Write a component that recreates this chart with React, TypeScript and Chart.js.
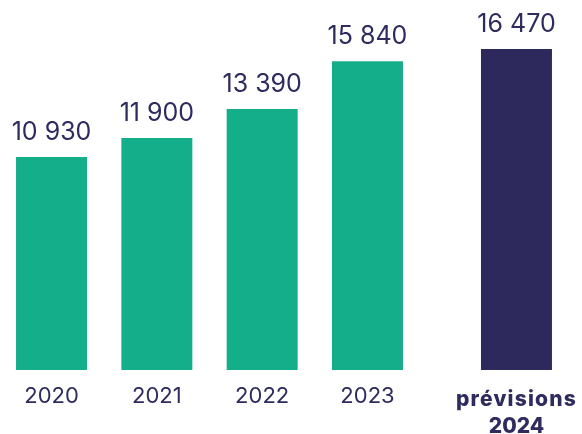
import React, { useEffect, useRef } from "react";
import { Chart, registerables } from "chart.js";

Chart.register(...registerables);

const categories: string[][] = [["2020"], ["2021"], ["2022"], ["2023"], ["prévisions", "2024"]];
const actualValues: (number | null)[] = [10930, 11900, 13390, 15840, null];
const forecastValues: (number | null)[] = [null, null, null, null, 16470];

const TEAL = "#15AE8A";
const NAVY = "#2D295C";
const TEXT = "#2E2B5E";
const FONT = "Inter, 'Noto Sans', sans-serif";

const fmt = (v: number) => String(v).replace(/\B(?=(\d{3})+(?!\d))/g, " ");

const labelPlugin = {
  id: "barLabels",
  afterDatasetsDraw(chart: any) {
    const ctx = chart.ctx;
    ctx.save();
    ctx.textAlign = "center";
    ctx.textBaseline = "alphabetic";
    ctx.fillStyle = TEXT;
    chart.data.datasets.forEach((ds: any, di: number) => {
      const meta = chart.getDatasetMeta(di);
      meta.data.forEach((el: any, i: number) => {
        const v = ds.data[i];
        if (v === null || v === undefined) return;
        ctx.letterSpacing = "0px";
        ctx.font = `400 25px ${FONT}`;
        ctx.fillText(fmt(v), el.x, el.y - 17);
        const lines = categories[i];
        const bold = ds.isForecast;
        ctx.font = `${bold ? 800 : 400} ${bold ? 21 : 22}px ${FONT}`;
        lines.forEach((line, li) => {
          ctx.letterSpacing = bold && li === 0 ? "1.2px" : "0px";
          ctx.fillText(line, el.x, (bold ? 406 : 403) + li * 27);
        });
      });
    });
    ctx.restore();
  },
};

export default function App() {
  const ref = useRef<HTMLCanvasElement | null>(null);
  useEffect(() => {
    document.body.style.margin = "0";
    if (!ref.current) return;
    const chart = new Chart(ref.current, {
      type: "bar",
      data: {
        labels: categories,
        datasets: [
          {
            label: "Réalisé",
            data: actualValues,
            backgroundColor: TEAL,
            categoryPercentage: 0.829,
            barPercentage: 1.626,
            clip: false,
          } as any,
          {
            label: "Prévisions",
            data: forecastValues,
            backgroundColor: NAVY,
            categoryPercentage: 0.829,
            barPercentage: 1.626,
            clip: false,
            isForecast: true,
          } as any,
        ],
      },
      options: {
        animation: false,
        responsive: true,
        maintainAspectRatio: false,
        layout: { padding: { left: 20.7, right: 34.7, top: 19.2, bottom: 64 } },
        plugins: { legend: { display: false }, tooltip: { enabled: false } },
        scales: {
          x: { display: false, grid: { display: false } },
          y: { display: false, min: 0, max: 18000 },
        },
      },
      plugins: [labelPlugin],
    });
    return () => chart.destroy();
  }, []);
  return (
    <div style={{ width: 582, height: 434, position: "relative" }}>
      <canvas ref={ref} />
    </div>
  );
}
